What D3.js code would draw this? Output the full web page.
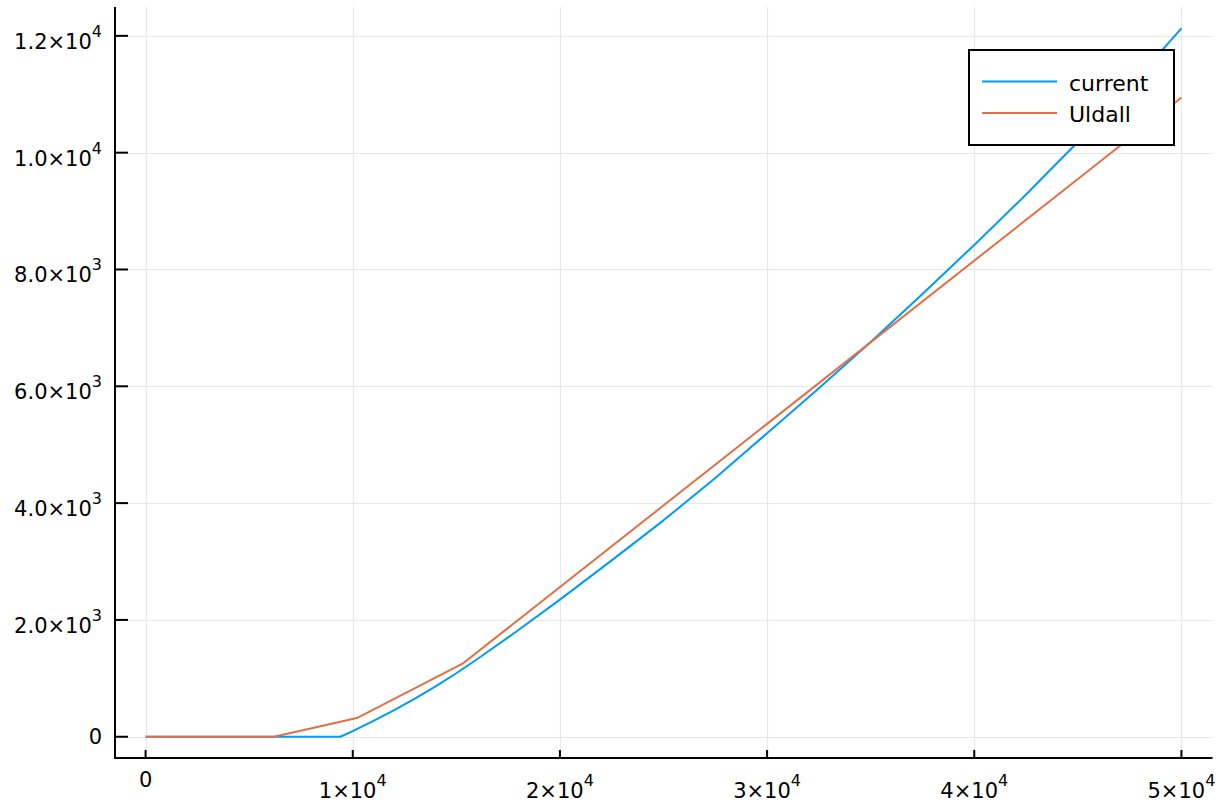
<!DOCTYPE html>
<html>
<head>
<meta charset="utf-8">
<script src="https://cdn.jsdelivr.net/npm/d3@7"></script>
<style>
  html, body { margin: 0; padding: 0; background: #fff; }
  svg { display: block; font-family: "DejaVu Sans", sans-serif; }
</style>
</head>
<body>
<svg id="chart" width="1225" height="807"></svg>
<script>
// ---- data ----
const currentX = [0, 9400, 10000, 11000, 12000, 13000, 14000, 15000, 16000, 18000, 20000, 22500, 25000, 27500, 30000, 32500, 35000, 37500, 40000, 42500, 45000, 47500, 50000];
const currentY = [0, 0, 95, 270, 455, 652, 862, 1087, 1327, 1827, 2347, 3020, 3705, 4430, 5197, 5965, 6757, 7582, 8420, 9283, 10183, 11128, 12128];
const uldallX = [0, 6200, 10200, 15300, 50000];
const uldallY = [0, 0, 320, 1250, 10945];
const seriesNames = ["current", "Uldall"];
const seriesColors = ["#009AFA", "#E36F47"];
const xTicks = [0, 10000, 20000, 30000, 40000, 50000];
const xTickBase = ["0", "1×10", "2×10", "3×10", "4×10", "5×10"];
const xTickExp = ["", "4", "4", "4", "4", "4"];
const yTicks = [0, 2000, 4000, 6000, 8000, 10000, 12000];
const yTickBase = ["0", "2.0×10", "4.0×10", "6.0×10", "8.0×10", "1.0×10", "1.2×10"];
const yTickExp = ["", "3", "3", "3", "3", "4", "4"];

// ---- layout ----
const pLeft = 114.5, pRight = 1212.5, pTop = 7, pBottom = 758;
const svg = d3.select("#chart");

const xMax = 50000, yMax = 12130;
const x = d3.scaleLinear().domain([-0.03 * xMax, 1.03 * xMax]).range([pLeft, pRight]);
const y = d3.scaleLinear().domain([-0.03 * yMax, 1.03 * yMax]).range([pBottom, pTop]);

// grid
const grid = svg.append("g").attr("stroke", "#e8e8e8").attr("stroke-width", 1.2);
grid.selectAll("line.v").data(xTicks).join("line")
  .attr("x1", d => Math.round(x(d)) + 0.5).attr("x2", d => Math.round(x(d)) + 0.5)
  .attr("y1", pTop).attr("y2", pBottom);
grid.selectAll("line.h").data(yTicks).join("line")
  .attr("y1", d => Math.round(y(d)) + 0.5).attr("y2", d => Math.round(y(d)) + 0.5)
  .attr("x1", pLeft).attr("x2", pRight);

// series
const line = d3.line().x(d => x(d[0])).y(d => y(d[1]));
const series = [
  d3.zip(currentX, currentY),
  d3.zip(uldallX, uldallY)
];
svg.append("g").selectAll("path").data(series).join("path")
  .attr("d", line)
  .attr("fill", "none")
  .attr("stroke", (d, i) => seriesColors[i])
  .attr("stroke-width", 2)
  .attr("stroke-linejoin", "round");

// axes spines
const axes = svg.append("g").attr("stroke", "#000").attr("stroke-width", 2);
axes.append("line").attr("x1", 115).attr("x2", 115).attr("y1", pTop).attr("y2", pBottom + 1);
axes.append("line").attr("x1", 114).attr("x2", pRight).attr("y1", pBottom).attr("y2", pBottom);
// ticks (inward)
axes.selectAll("line.yt").data(yTicks).join("line")
  .attr("x1", 115).attr("x2", 128)
  .attr("y1", d => y(d)).attr("y2", d => y(d));
axes.selectAll("line.xt").data(xTicks).join("line")
  .attr("x1", d => x(d)).attr("x2", d => x(d))
  .attr("y1", pBottom).attr("y2", pBottom - 8);

// tick labels
const fs = 21, sfs = 16;
const yl = svg.append("g").attr("font-size", fs).attr("fill", "#000");
yTicks.forEach((v, i) => {
  const t = yl.append("text")
    .attr("x", 102)
    .attr("y", y(v) + (yTickExp[i] ? 13 : 7.5))
    .attr("text-anchor", "end");
  t.append("tspan").text(yTickBase[i]);
  if (yTickExp[i]) t.append("tspan").attr("font-size", sfs).attr("dy", -12).text(yTickExp[i]);
});
const xl = svg.append("g").attr("font-size", fs).attr("fill", "#000");
xTicks.forEach((v, i) => {
  const t = xl.append("text")
    .attr("x", x(v))
    .attr("y", xTickExp[i] ? 798 : 787)
    .attr("text-anchor", "middle");
  t.append("tspan").text(xTickBase[i]);
  if (xTickExp[i]) t.append("tspan").attr("font-size", sfs).attr("dy", -12).text(xTickExp[i]);
});

// legend
const lg = svg.append("g");
lg.append("rect").attr("x", 969).attr("y", 50).attr("width", 205).attr("height", 95)
  .attr("fill", "#fff").attr("stroke", "#000").attr("stroke-width", 2);
seriesNames.forEach((n, i) => {
  const ly = 81.5 + i * 31.5;
  lg.append("line").attr("x1", 982).attr("x2", 1057).attr("y1", ly).attr("y2", ly)
    .attr("stroke", seriesColors[i]).attr("stroke-width", 2);
  lg.append("text").attr("x", 1069).attr("y", ly + 9).attr("font-size", 22).text(n);
});
</script>
</body>
</html>
